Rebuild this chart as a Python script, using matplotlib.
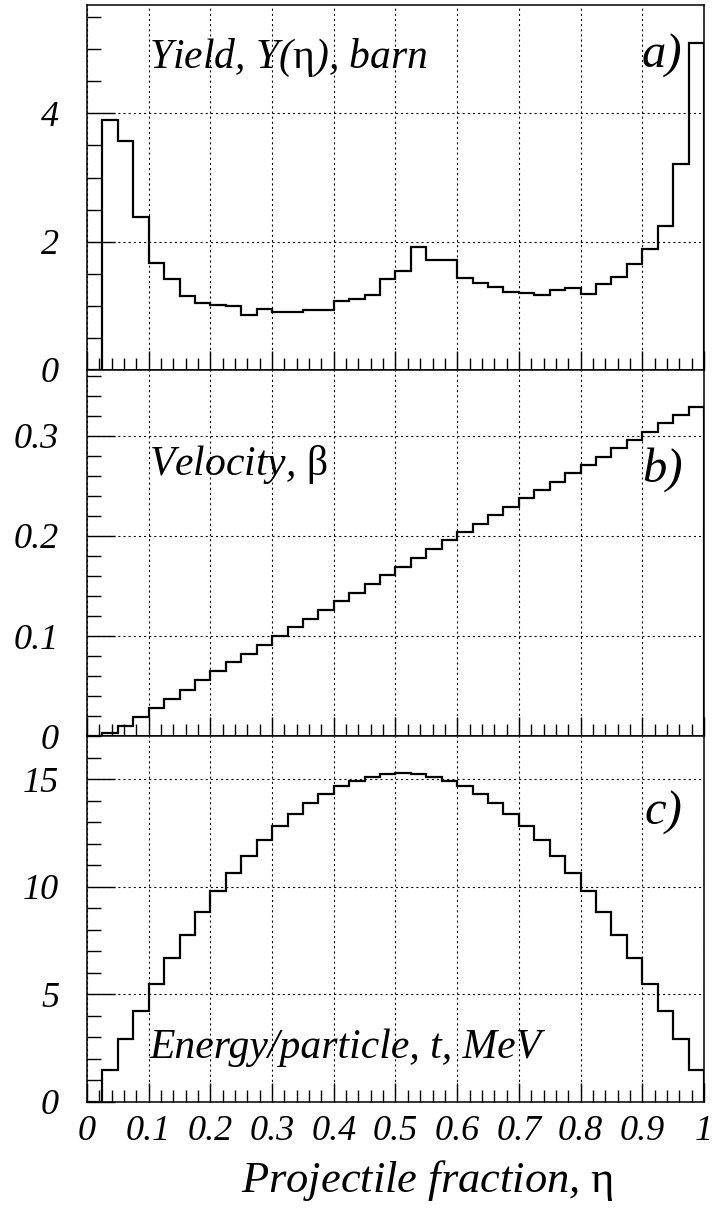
import matplotlib
matplotlib.use("Agg")
import matplotlib.pyplot as plt
import numpy as np
from matplotlib.ticker import MultipleLocator

# data: 40 bins of width 0.025 over projectile fraction eta
edges = np.linspace(0.0, 1.0, 41)

yield_barn = [0.0, 3.89, 3.57, 2.38, 1.67, 1.42, 1.15, 1.04, 1.01, 0.99,
              0.85, 0.95, 0.90, 0.91, 0.94, 0.93, 1.08, 1.11, 1.17, 1.42,
              1.55, 1.92, 1.71, 1.71, 1.43, 1.35, 1.29, 1.22, 1.20, 1.17,
              1.24, 1.27, 1.19, 1.34, 1.45, 1.65, 1.89, 2.24, 3.21, 5.10]

velocity = [0.0, 0.003, 0.010, 0.019, 0.028, 0.037, 0.046, 0.056, 0.065, 0.074,
            0.082, 0.091, 0.100, 0.109, 0.117, 0.126, 0.135, 0.143, 0.152, 0.161,
            0.169, 0.178, 0.187, 0.196, 0.204, 0.212, 0.221, 0.229, 0.238, 0.246,
            0.254, 0.263, 0.271, 0.279, 0.288, 0.296, 0.304, 0.313, 0.321, 0.329]

energy = [0.0, 1.47, 2.89, 4.22, 5.47, 6.67, 7.76, 8.80, 9.78, 10.64,
          11.43, 12.18, 12.81, 13.39, 13.87, 14.30, 14.66, 14.92, 15.11, 15.23,
          15.26, 15.23, 15.11, 14.92, 14.67, 14.30, 13.87, 13.39, 12.81, 12.18,
          11.43, 10.64, 9.78, 8.80, 7.76, 6.67, 5.47, 4.22, 2.89, 1.47]

x_ticks = [0, 0.1, 0.2, 0.3, 0.4, 0.5, 0.6, 0.7, 0.8, 0.9, 1]
x_labels = ['0', '0.1', '0.2', '0.3', '0.4', '0.5', '0.6', '0.7', '0.8', '0.9', '1']

plt.rcParams['font.family'] = ['Liberation Serif', 'DejaVu Serif']
plt.rcParams['mathtext.fontset'] = 'custom'
plt.rcParams['mathtext.rm'] = 'Liberation Serif'
plt.rcParams['lines.scale_dashes'] = False

TICK_FS = 26
TEXT_FS = 30
TAG_FS = 35


def style_axis(ax, ylim, yticks, ylabels, yminor):
    ax.set_xlim(0, 1)
    ax.set_ylim(*ylim)
    ax.set_yticks(yticks, ylabels, fontstyle='italic', fontsize=TICK_FS)
    ax.yaxis.set_minor_locator(MultipleLocator(yminor))
    ax.xaxis.set_minor_locator(MultipleLocator(0.02))
    ax.tick_params(axis='y', which='major', direction='in', length=20,
                   width=1, pad=20)
    ax.tick_params(axis='y', which='minor', direction='in', length=10, width=1)
    ax.tick_params(axis='x', which='major', direction='in', length=14,
                   width=1, pad=10)
    ax.tick_params(axis='x', which='minor', direction='in', length=9, width=1)
    ax.grid(True, which='major', color='black', linewidth=0.8,
            linestyle=(0, (1.5, 2.2)))
    for s in ax.spines.values():
        s.set_linewidth(1.1)


def main() -> None:
    fig = plt.figure(figsize=(7.14, 12.09), dpi=100)
    left, right = 0.1218, 0.986
    bottoms = [0.694, 0.3912, 0.0889]
    tops = [0.9959, 0.694, 0.3912]
    axes = []
    for b, t in zip(bottoms, tops):
        axes.append(fig.add_axes([left, b, right - left, t - b]))
    ax1, ax2, ax3 = axes

    ax1.stairs(yield_barn, edges, color='black', linewidth=1.6)
    style_axis(ax1, (0, 5.69), [0, 2, 4], ['0', '2', '4'], 0.5)
    ax1.text(0.1, 4.71, r'Yield, Y($\mathrm{\eta}$), barn', fontsize=TEXT_FS,
             fontstyle='italic', va='baseline')
    ax1.text(0.898, 4.71, 'a)', fontsize=TAG_FS, fontstyle='italic',
             va='baseline')

    ax2.stairs(velocity, edges, color='black', linewidth=1.6)
    style_axis(ax2, (0, 0.366), [0, 0.1, 0.2, 0.3],
               ['0', '0.1', '0.2', '0.3'], 0.02)
    ax2.text(0.1, 0.261, r'Velocity, $\mathrm{\beta}$', fontsize=TEXT_FS,
             fontstyle='italic', va='baseline')
    ax2.text(0.9, 0.254, 'b)', fontsize=TAG_FS, fontstyle='italic',
             va='baseline')

    ax3.stairs(energy, edges, color='black', linewidth=1.6)
    style_axis(ax3, (0, 17.0), [0, 5, 10, 15], ['0', '5', '10', '15'], 1)
    ax3.text(0.102, 2.02, 'Energy/particle, t, MeV', fontsize=TEXT_FS,
             fontstyle='italic', va='baseline')
    ax3.text(0.903, 12.86, 'c)', fontsize=TAG_FS, fontstyle='italic',
             va='baseline')

    for ax in (ax1, ax2):
        ax.set_xticks(x_ticks, [''] * len(x_ticks))
    ax3.set_xticks(x_ticks, x_labels, fontstyle='italic', fontsize=TICK_FS)

    fig.text(427 / 714, 1 - 1192 / 1209,
             r'Projectile fraction, $\mathrm{\eta}$', fontsize=32,
             fontstyle='italic', ha='center', va='baseline')

    fig.savefig('out.png', dpi=100)


if __name__ == "__main__":
    main()
